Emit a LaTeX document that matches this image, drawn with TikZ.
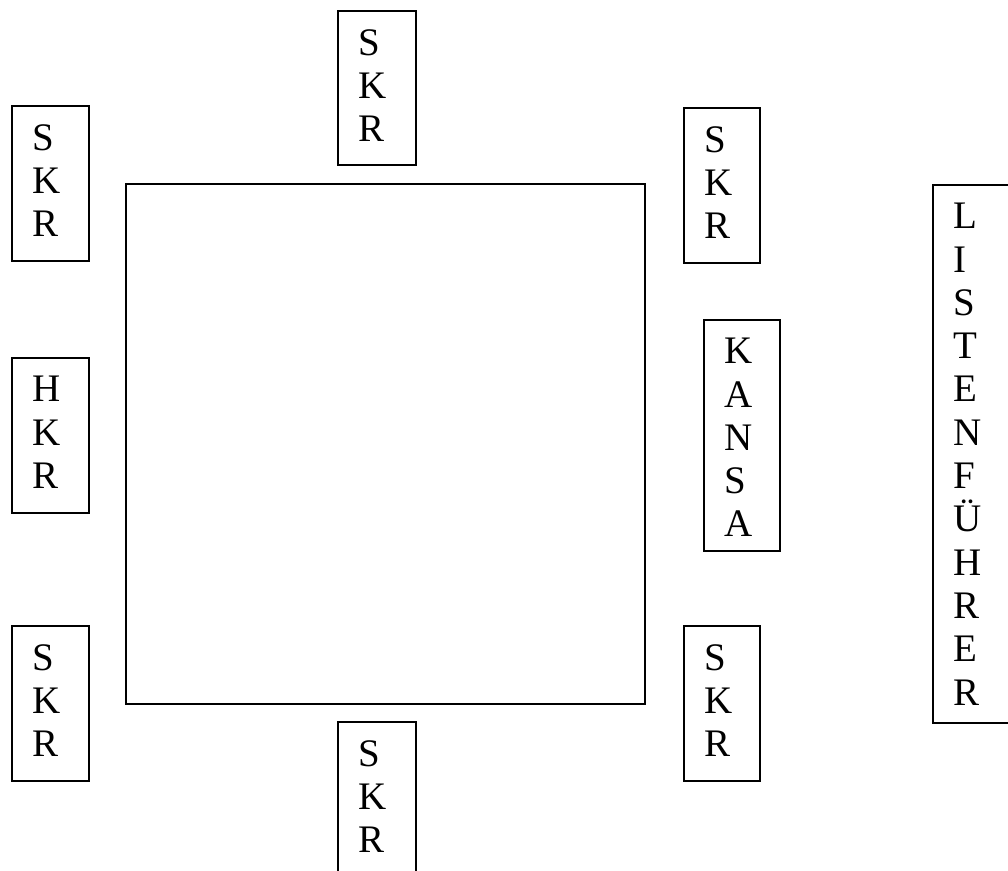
\documentclass[tikz,border=0pt]{standalone}
\usepackage{fontspec}
\setmainfont{Liberation Serif}
\usetikzlibrary{calc}
\tikzset{
  box/.style={draw, line width=1.8pt, rectangle, inner sep=0pt, anchor=north west},
  lbl/.style={inner sep=0pt, anchor=north west, align=left, font=\fontsize{39}{43.3}\selectfont}
}
\newcommand{\boxlabel}[2]{\node[lbl] (#1-t) at ($(#1.north west)+(21,19)$) {#2};}
\begin{document}
\begin{tikzpicture}[x=1pt,y=-1pt]
\clip (0,0) rectangle (1008,870);
\fill[white] (0,0) rectangle (1008,870);
% main square
\node[box, minimum width=519pt, minimum height=520pt] (sq) at (125,183) {};
% small boxes
\node[box, minimum width=78pt, minimum height=154pt] (top) at (337,10) {};
\boxlabel{top}{S\\K\\R}
\node[box, minimum width=77pt, minimum height=155pt] (tl) at (11,105) {};
\boxlabel{tl}{S\\K\\R}
\node[box, minimum width=76pt, minimum height=155pt] (tr) at (683,107) {};
\boxlabel{tr}{S\\K\\R}
\node[box, minimum width=77pt, minimum height=155pt] (hkr) at (11,357) {};
\boxlabel{hkr}{H\\K\\R}
\node[box, minimum width=76pt, minimum height=231pt] (kansa) at (703,319) {};
\boxlabel{kansa}{K\\A\\N\\S\\A}
\node[box, minimum width=77pt, minimum height=155pt] (bl) at (11,625) {};
\boxlabel{bl}{S\\K\\R}
\node[box, minimum width=76pt, minimum height=155pt] (br) at (683,625) {};
\boxlabel{br}{S\\K\\R}
\node[box, minimum width=78pt, minimum height=170pt] (bot) at (337,721) {};
\boxlabel{bot}{S\\K\\R}
\node[box, minimum width=80pt, minimum height=538pt] (list) at (932,184) {};
\boxlabel{list}{L\\I\\S\\T\\E\\N\\F\\Ü\\H\\R\\E\\R}
\end{tikzpicture}
\end{document}
